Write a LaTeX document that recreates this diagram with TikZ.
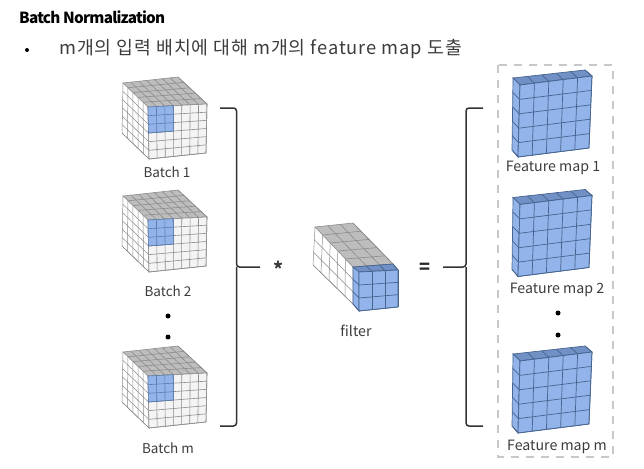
\documentclass[tikz,border=0pt]{standalone}
\usepackage{fontspec}
\setmainfont{Noto Sans CJK KR}
\usetikzlibrary{calc}

\definecolor{textgray}{HTML}{3C3C3C}
\definecolor{cubeline}{HTML}{8C8C8C}
\definecolor{cubetop}{HTML}{BDBDBD}
\definecolor{cubefront}{HTML}{F4F4F4}
\definecolor{bluefront}{HTML}{93B4EA}
\definecolor{bluetop}{HTML}{7191C6}
\definecolor{blueline}{HTML}{46648F}
\definecolor{boxgray}{HTML}{C8C8C8}

%one quad with a grid: corners TL, TR, BR, BL, then columns, rows, style
\newcommand{\gridface}[7]{
	\filldraw[#7] (#1)--(#2)--(#3)--(#4)--cycle;
	\foreach \i in {1,...,#5} {\draw[#7,fill=none] ($(#1)!\i/#5!(#2)$)--($(#4)!\i/#5!(#3)$);}
	\foreach \j in {1,...,#6} {\draw[#7,fill=none] ($(#1)!\j/#6!(#4)$)--($(#2)!\j/#6!(#3)$);}
}

\tikzset{
	graygrid/.style={draw=cubeline,fill=cubetop,line width=0.6pt},
	whitegrid/.style={draw=cubeline,fill=white,line width=0.5pt},
	frontgrid/.style={draw=cubeline,fill=cubefront,line width=0.6pt},
	bluegrid/.style={draw=blueline,fill=bluefront,line width=0.7pt},
	patchgrid/.style={draw=blueline!70!bluefront,fill=bluefront,line width=0.6pt},
	darkgrid/.style={draw=blueline,fill=bluetop,line width=0.7pt},
	brace/.style={line width=1.5pt,draw=black!80,rounded corners=3pt},
	caption/.style={text=textgray,font=\fontsize{13.5}{15}\selectfont},
	mapcaption/.style={text=textgray,font=\fontsize{14.2}{16}\selectfont},
	dot/.style={circle,fill=black,inner sep=0pt,minimum size=5pt},
	%input cube
	batchcube/.pic={
		\coordinate (ftl) at (148,107);
		\coordinate (ftr) at (207,104);
		\coordinate (fbr) at (206,153);
		\coordinate (fbl) at (149,159);
		\coordinate (btl) at (123,83);
		\coordinate (btr) at (178,77);
		\coordinate (bbl) at (122,133);
		\gridface{btl}{btr}{ftr}{ftl}{7}{5}{graygrid}
		\gridface{btl}{ftl}{fbl}{bbl}{5}{6}{whitegrid}
		\gridface{ftl}{ftr}{fbr}{fbl}{7}{6}{frontgrid}
		\coordinate (ptr) at ($(ftl)!3/7!(ftr)$);
		\coordinate (pbl) at ($(ftl)!1/2!(fbl)$);
		\coordinate (pbr) at ($(ptr)!1/2!($(fbl)!3/7!(fbr)$)$);
		\gridface{ftl}{ptr}{pbr}{pbl}{3}{3}{patchgrid}
	},
	%output slab
	featureslab/.pic={
		\coordinate (ftl) at (520,85);
		\coordinate (ftr) at (592,76);
		\coordinate (fbr) at (589,148);
		\coordinate (fbl) at (518,157);
		\gridface{513,78}{585,70}{ftr}{ftl}{5}{1}{darkgrid}
		\gridface{513,78}{ftl}{fbl}{512,150}{1}{5}{bluegrid}
		\gridface{ftl}{ftr}{fbr}{fbl}{5}{5}{bluegrid}
	}
}

\begin{document}
\begin{tikzpicture}[x=1pt,y=-1pt]
	\useasboundingbox (0,0) rectangle (644,468);

	%heading
	\node[anchor=west,inner sep=0pt,font=\fontsize{15.3}{18}\selectfont\bfseries\addfontfeatures{LetterSpace=-5}] (title) at (19,17) {Batch Normalization};
	\node[dot,minimum size=4pt] (bullet) at (27,50) {};
	\node[anchor=west,inner sep=0pt,text=textgray,font=\fontsize{18.3}{20}\selectfont\addfontfeatures{LetterSpace=5}] (subtitle) at (59,49) {m개의 입력 배치에 대해 m개의 feature map 도출};

	%batches
	\pic at (0,0) {batchcube};
	\pic at (0,113) {batchcube};
	\pic at (0,269) {batchcube};
	\node[caption] (batch1) at (167,172) {Batch 1};
	\node[caption] (batch2) at (168,291) {Batch 2};
	\node[caption] (batchm) at (168,448) {Batch m};
	\node[dot] (dotl1) at (168,316) {};
	\node[dot] (dotl2) at (168,337) {};

	%left brace
	\draw[brace] (220,108)--(236.5,108)--(236.5,267)--(260,267);
	\draw[brace] (220,426)--(236.5,426)--(236.5,267);

	%filter
	\node[font=\fontsize{19}{20}\selectfont\bfseries,text=textgray] (star) at (279,269) {*};
	\gridface{315,227}{353,223}{393,264}{353,267}{3}{5}{graygrid}
	\gridface{315,227}{353,267}{353,304}{313,265}{5}{3}{whitegrid}
	\gridface{353,267}{393,264}{398,270}{359,272}{3}{1}{darkgrid}
	\gridface{353,267}{359,272}{359,311}{353,304}{1}{3}{bluegrid}
	\gridface{359,272}{398,270}{398,307}{359,311}{3}{3}{bluegrid}
	\node[mapcaption] (filter) at (356,331) {filter};
	\node[font=\fontsize{18}{20}\selectfont\bfseries,text=black!85] (equal) at (425,268) {=};

	%right brace
	\draw[brace] (483,108)--(466,108)--(466,267)--(443,267);
	\draw[brace] (483,426)--(466,426)--(466,267);

	%feature maps
	\draw[boxgray,line width=1.5pt,dash pattern=on 8pt off 7pt] (498,65) rectangle (613,457);
	\pic at (0,0) {featureslab};
	\pic at (0,119.5) {featureslab};
	\pic at (0,276) {featureslab};
	\node[mapcaption] (map1) at (553,167.5) {Feature map 1};
	\node[mapcaption] (map2) at (557,289.5) {Feature map 2};
	\node[mapcaption] (mapm) at (557,446.5) {Feature map m};
	\node[dot] (dotr1) at (558,313) {};
	\node[dot] (dotr2) at (558,335) {};
\end{tikzpicture}
\end{document}
